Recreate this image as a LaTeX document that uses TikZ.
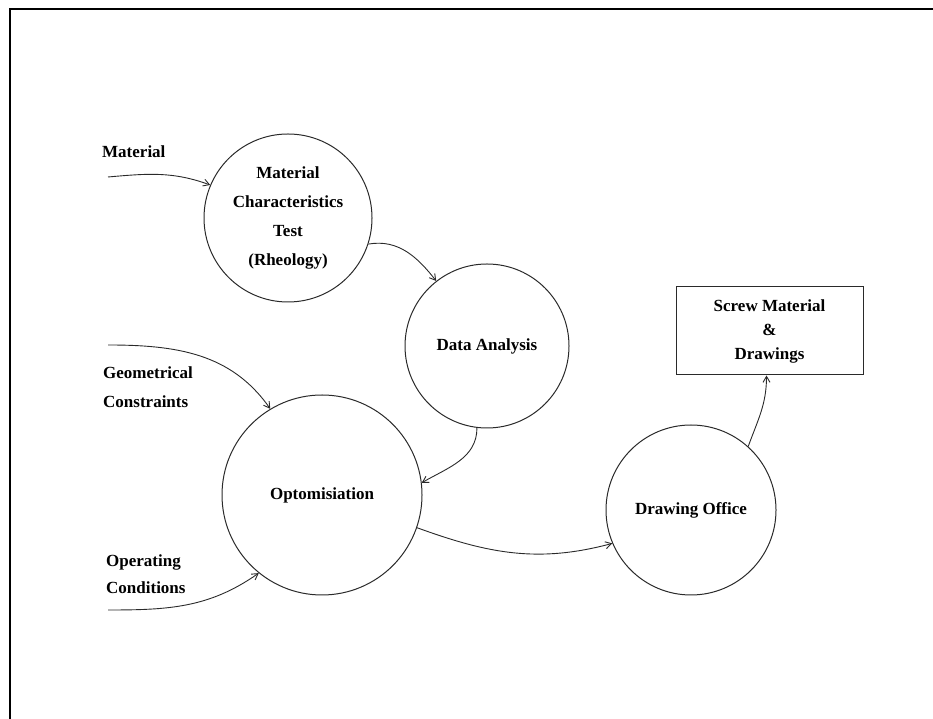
\documentclass[tikz,border=0pt]{standalone}
\usepackage{fontspec}
\setmainfont{Liberation Serif}
\usetikzlibrary{arrows.meta}
\definecolor{ink}{HTML}{2A2A2A}
\begin{document}
\begin{tikzpicture}[x=1pt,y=1pt,
  txt/.style={text=black,font=\bfseries\fontsize{17}{29}\selectfont},
  proc/.style={circle,draw=ink,line width=1pt,inner sep=0pt,align=center,txt},
  sink/.style={rectangle,draw=ink,line width=1pt,inner sep=0pt,align=center,
    minimum width=187pt,minimum height=88pt,txt,font=\bfseries\fontsize{17}{24}\selectfont},
  lbl/.style={txt,inner sep=0pt,align=left,anchor=north west},
  flow/.style={draw=ink,line width=0.9pt,-{Straight Barb[length=6pt,width=7pt]}}]
% page extent
\useasboundingbox (0,0) rectangle (933,719);
% frame
\draw[line width=2pt,black] (10,0) -- (10,710) -- (933,710);

% processes
\node[proc,minimum size=168pt] (mct) at (288,501)
  {Material\\Characteristics\\Test\\(Rheology)};
\node[proc,minimum size=164pt] (da) at (487,373) {Data Analysis};
\node[proc,minimum size=200pt] (opt) at (322,224) {Optomisiation};
\node[proc,minimum size=170pt] (dof) at (691,209) {Drawing Office};
\node[sink] (out) at (769.5,388) {Screw Material\\\&\\Drawings};

% external inputs
\node[lbl] (lmat) at (102,573) {Material};
\node[lbl] (lgeo) at (103,352) {Geometrical\\Constraints};
\node[lbl,font=\bfseries\fontsize{17}{27}\selectfont] (lope) at (106,164) {Operating\\Conditions};
\coordinate (smat) at (108,542);
\coordinate (sgeo) at (108,374);
\coordinate (sope) at (108,109);

% flows
\draw[flow] (smat) to[out=5,in=160] (mct.157);
\draw[flow] (mct.-18) to[out=10,in=128] (da.128);
\draw[flow] (sgeo) to[out=0,in=125] (opt.121);
\draw[flow] (sope) to[out=0,in=215] (opt.231);
\draw[flow] (da.-97) to[out=-90,in=30] (opt.7);
\draw[flow] (opt.-19) to[out=-20,in=195] (dof.203);
\draw[flow] (dof.48) to[out=70,in=-90] ([xshift=-3pt]out.south);
\end{tikzpicture}
\end{document}
